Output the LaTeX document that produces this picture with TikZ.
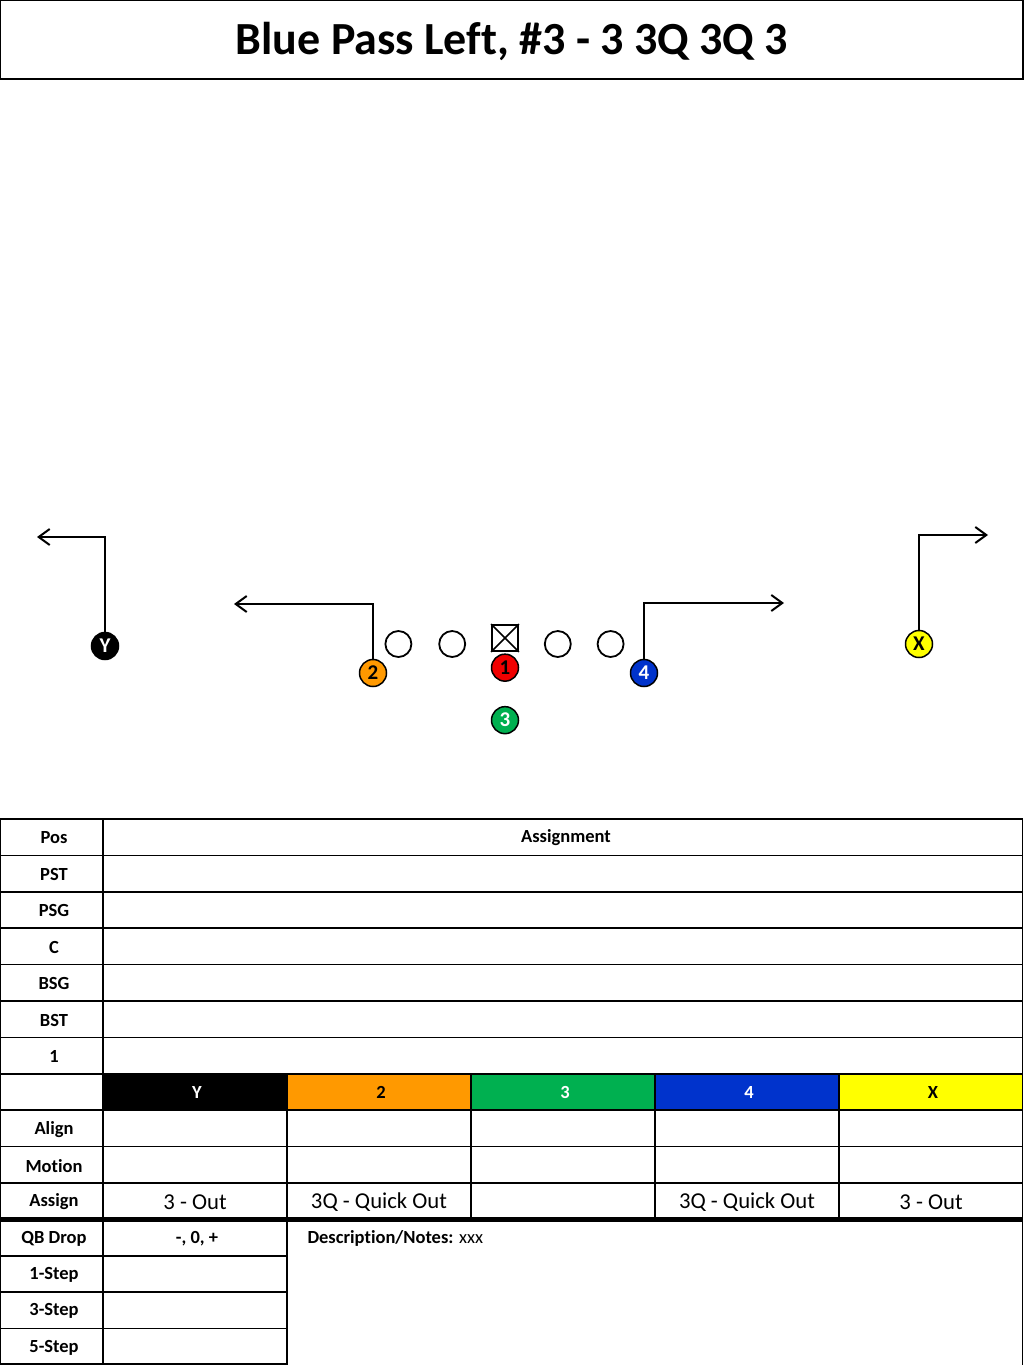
\documentclass[tikz,border=0pt]{standalone}
\usepackage{fontspec}
\setmainfont[Ligatures=NoCommon]{Carlito}
\usepackage{tikz}
\usetikzlibrary{positioning}
\usetikzlibrary{arrows.meta}
\definecolor{orangeTwo}{HTML}{FF9900}
\definecolor{redOne}{HTML}{F00000}
\definecolor{greenThree}{HTML}{00B050}
\definecolor{blueFour}{HTML}{0033CC}
\definecolor{yellowX}{HTML}{FFFF00}
\tikzstyle{route} = [line width=2pt,-{Straight Barb[length=11pt,width=16pt,line width=2pt]}]
\tikzstyle{lineman} = [circle, draw, line width=1.8pt, minimum size=26pt, inner sep=0pt]
\tikzstyle{skill} = [circle, draw, line width=1.5pt, minimum size=27pt, inner sep=0pt, font=\fontsize{21}{21}\selectfont\bfseries]
\tikzstyle{label} = [font=\fontsize{18.5}{18.5}\selectfont\bfseries]
\tikzstyle{entry} = [font=\fontsize{22.7}{22.7}\selectfont]
\tikzstyle{grid} = [line width=1.6pt]

\begin{document}
\begin{tikzpicture}[x=1pt,y=-1pt]
						\useasboundingbox (0,0) rectangle (1024,1365);
						
						%Title
						\draw[grid] (0,0) rectangle (1023,79);
						\node[font=\fontsize{46}{46}\selectfont\bfseries] (title) at (512,41) {Blue Pass Left, \#3 - 3 3Q 3Q 3};
						
						%Line
						\node[draw, line width=1.8pt, minimum size=26pt, inner sep=0pt] (C) at (505,638) {};
						\draw[line width=1.5pt] (C.north west) -- (C.south east) (C.north east) -- (C.south west);
						\node[lineman, left=25pt of C, yshift=-6pt] (LG) {};
						\node[lineman, left=26pt of LG] (LT) {};
						\node[lineman, right=25pt of C, yshift=-6pt] (RG) {};
						\node[lineman, right=25pt of RG] (RT) {};
						
						%Skill players
						\node[skill, fill=redOne, below=1.5pt of C] (one) {1};
						\node[skill, fill=greenThree, text=white, below=24pt of one] (three) {3};
						\node[skill, fill=orangeTwo] (two) at (373,673) {2};
						\node[skill, fill=blueFour, text=white] (four) at (644,673) {4};
						\node[skill, fill=black, text=white] (Y) at (105,646) {Y};
						\node[skill, fill=yellowX] (X) at (919,644) {X};
						
						%Coordinates
						\coordinate (endY) at (37,537);
						\coordinate (endTwo) at (234,604);
						\coordinate (endFour) at (784,603);
						\coordinate (endX) at (988,535);
						
						%Arrows
						\draw[route] (Y.north) |- (endY);
						\draw[route] (two.north) |- (endTwo);
						\draw[route] (four.north) |- (endFour);
						\draw[route] (X.north) |- (endX);
						
						%Header fills
						\foreach \lab/\col/\txt [count=\k from 0] in {Y/black/white, 2/orangeTwo/black, 3/greenThree/white, 4/blueFour/white, X/yellowX/black}
							\fill[\col] ({103+184*\k},1073.8) rectangle ({287+184*\k},1110.2) node[midway, label, text=\txt, xshift=2pt] (hdr\lab) {\lab};
						
						%Row labels
						\foreach \lab [count=\i from 0] in {Pos,PST,PSG,C,BSG,BST,1,{},Align,Motion,Assign,QB Drop,1-Step,3-Step,5-Step}
							\node[label] (row\i) at (54,{838+36.4*\i}) {\lab};
						\node[label] (assignment) at (566,838) {Assignment};
						
						%Assignments
						\foreach \txt [count=\k from 0] in {3 - Out,3Q - Quick Out,{},3Q - Quick Out,3 - Out}
							\node[entry] (assign\k) at ({195+184*\k},1202) {\txt};
						\node[label] (drop) at (197,1238.4) {-, 0, +};
						\node[label, anchor=west] (notes) at (304,1238.4) {Description/Notes: \mdseries xxx};
						
						%Grid
						\foreach \i in {0,...,10}
							\draw[grid] (0,{819+36.4*\i}) -- (1023,{819+36.4*\i});
						\draw[line width=4.5pt] (0,1219.4) -- (1023,1219.4);
						\foreach \i in {12,...,14}
							\draw[grid] (0,{819+36.4*\i}) -- (287,{819+36.4*\i});
						\draw[grid] (0,1364) -- (287,1364);
						\foreach \x in {0,103,1022.5}
							\draw[grid] (\x,819) -- (\x,1365);
						\foreach \x in {287,471,655,839}
							\draw[grid] (\x,1073.8) -- (\x,1219.4);
						\draw[grid] (287,1219.4) -- (287,1365);
					\end{tikzpicture}
\end{document}
